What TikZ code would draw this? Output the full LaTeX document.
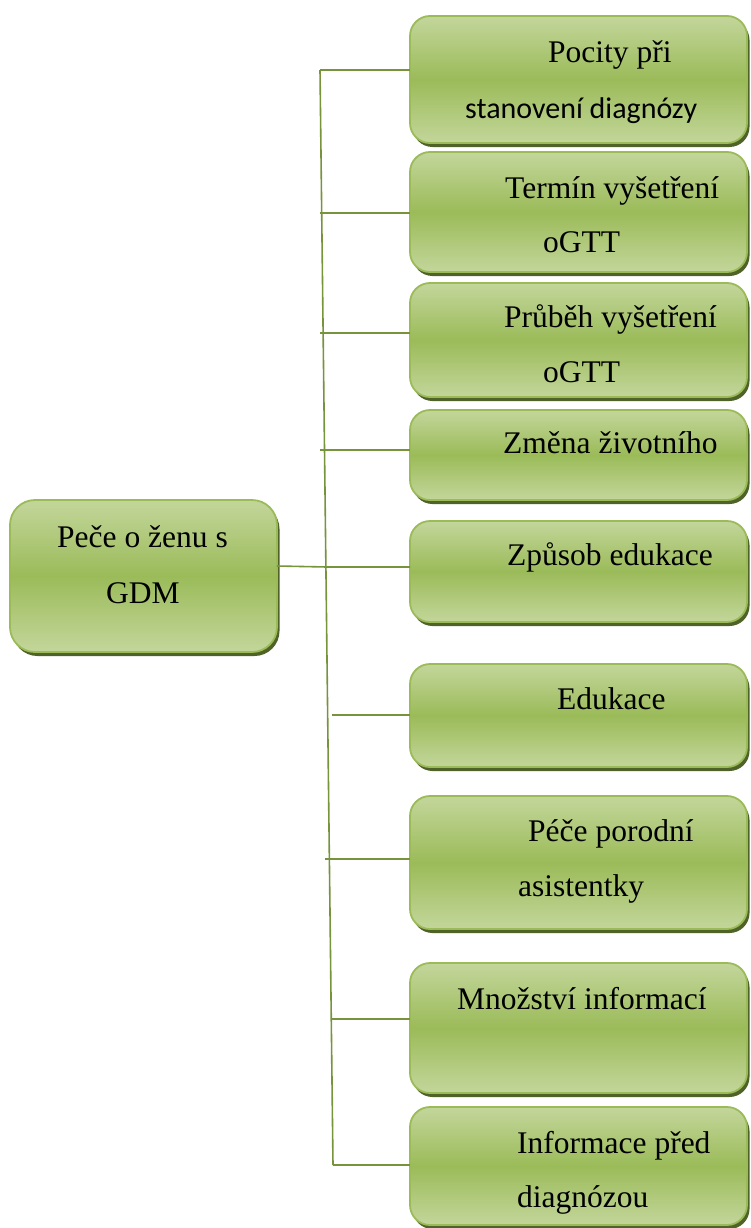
\documentclass[tikz,border=0pt]{standalone}
\usepackage{fontspec}
\setmainfont{Liberation Serif}
\newfontfamily\calfont{Carlito}
\usetikzlibrary{shadows}
\definecolor{gLight}{HTML}{C3D69B}
\definecolor{gMid}{HTML}{9BBB59}
\definecolor{gEdge}{HTML}{9BBB59}
\definecolor{gShadow}{HTML}{4F6228}
\definecolor{gLine}{HTML}{77933C}
\begin{document}
\begin{tikzpicture}[x=1pt,y=-1pt,
  gbox/.style={rounded corners=20pt, draw=gEdge, line width=1.8pt,
    top color=gLight, bottom color=gLight, middle color=gMid,
    inner sep=0pt, outer sep=0pt, anchor=north west, minimum width=337pt,
    drop shadow={fill=gShadow, opacity=1, shadow xshift=2.5pt, shadow yshift=-4pt}},
  lbl/.style={anchor=base west, inner sep=0pt, font=\fontsize{31.5}{37}\selectfont},
  link/.style={draw=gLine, line width=1.6pt}]
\useasboundingbox (0,0) rectangle (750,1228);

% root box
\node[gbox, minimum width=267pt, minimum height=152pt, rounded corners=25pt] (root) at (10,500) {};
\node[lbl] (rootA) at (57,547) {Peče o ženu s};
\node[lbl] (rootB) at (106,603) {GDM};

% branch boxes
\node[gbox, minimum height=127pt] (b1) at (410,16) {};
\node[gbox, minimum height=120pt] (b2) at (410,152) {};
\node[gbox, minimum height=114pt] (b3) at (410,283) {};
\node[gbox, minimum height=90pt]  (b4) at (410,410) {};
\node[gbox, minimum height=101pt] (b5) at (410,521) {};
\node[gbox, minimum height=103pt] (b6) at (410,664) {};
\node[gbox, minimum height=133pt] (b7) at (410,796) {};
\node[gbox, minimum height=130pt] (b8) at (410,963) {};
\node[gbox, minimum height=118pt] (b9) at (410,1107) {};

% labels
\node[lbl] (l1a) at (548,63) {Pocity při};
\node[lbl, font=\calfont\fontsize{30}{36}\selectfont] (l1b) at (465,118) {stanovení diagnózy};
\node[lbl] (l2a) at (505,198) {Termín vyšetření};
\node[lbl] (l2b) at (543,252) {oGTT};
\node[lbl] (l3a) at (504,327) {Průběh vyšetření};
\node[lbl] (l3b) at (543,382) {oGTT};
\node[lbl] (l4a) at (503,453) {Změna životního};
\node[lbl] (l5a) at (507,565) {Způsob edukace};
\node[lbl] (l6a) at (557,709) {Edukace};
\node[lbl] (l7a) at (528,841) {Péče porodní};
\node[lbl] (l7b) at (518,896) {asistentky};
\node[lbl] (l8a) at (457,1009) {Množství informací};
\node[lbl] (l9a) at (517,1153) {Informace před};
\node[lbl] (l9b) at (517,1207) {diagnózou};

% trunk and branch points
\coordinate (ttop) at (320,70);
\coordinate (tbot) at (333,1165);
\coordinate (t1) at (320,70);
\coordinate (t2) at (320,213);
\coordinate (t3) at (320,333);
\coordinate (t4) at (320,450);
\coordinate (t5) at (327,567);
\coordinate (t6) at (332,715);
\coordinate (t7) at (325,859);
\coordinate (t8) at (332,1019);
\coordinate (t9) at (333,1165);

\draw[link] (ttop) -- (tbot);
\draw[link] (t1) -- (t1 -| b1.west);
\draw[link] (t2) -- (t2 -| b2.west);
\draw[link] (t3) -- (t3 -| b3.west);
\draw[link] (t4) -- (t4 -| b4.west);
\draw[link] (root.east |- 0,566) -- (t5) -- (t5 -| b5.west);
\draw[link] (t6) -- (t6 -| b6.west);
\draw[link] (t7) -- (t7 -| b7.west);
\draw[link] (t8) -- (t8 -| b8.west);
\draw[link] (t9) -- (t9 -| b9.west);
\end{tikzpicture}
\end{document}
